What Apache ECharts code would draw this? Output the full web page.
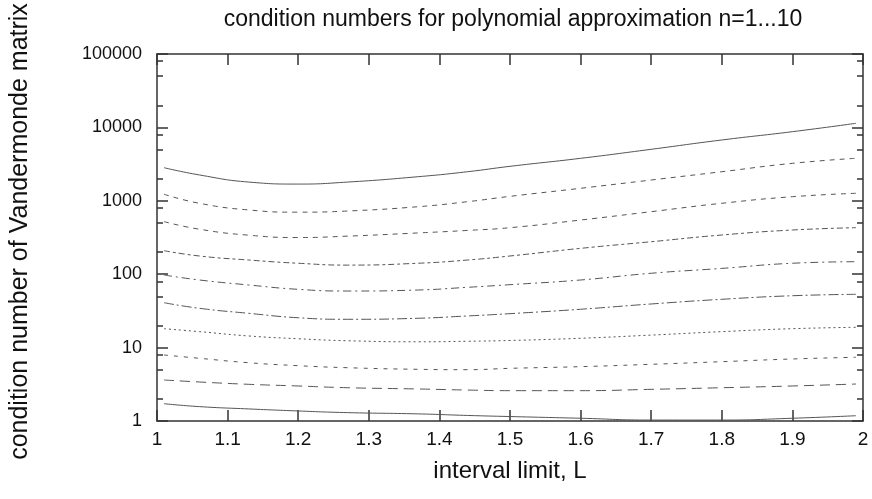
<!DOCTYPE html>
<html>
<head>
<meta charset="utf-8">
<script src="https://cdn.jsdelivr.net/npm/echarts@6/dist/echarts.min.js"></script>
<style>html,body{margin:0;padding:0;background:#fff}#c{width:872px;height:499px}</style>
</head>
<body>
<div id="c"></div>
<script>
const L = [1.01, 1.06, 1.13, 1.2, 1.27, 1.37, 1.44, 1.5, 1.6, 1.7, 1.8, 1.9, 1.99];
const n10 = [2825, 2250, 1800, 1690, 1800, 2130, 2490, 2950, 3790, 5030, 6740, 8740, 11370];
const n9 = [1227, 925, 750, 700, 726, 831, 973, 1150, 1480, 1920, 2490, 3240, 3794];
const n8 = [520, 410, 340, 316, 330, 365, 395, 430, 547, 711, 925, 1137, 1265];
const n7 = [209, 177, 156, 141, 133, 141, 156, 177, 225, 277, 342, 400, 430];
const n6 = [97.5, 83.4, 71.3, 62.2, 59, 60.9, 66.3, 72, 83.4, 103, 120, 141, 148];
const n5 = [40.9, 34.3, 29.3, 25.5, 24.3, 25.1, 27, 29, 33.3, 39.3, 45.5, 50.9, 53.2];
const n4 = [18.1, 16.5, 14.4, 13.2, 12.4, 12.0, 12.2, 12.5, 13.4, 14.8, 16.5, 18.1, 18.9];
const n3 = [7.93, 7.15, 6.22, 5.67, 5.32, 5.06, 5.0, 5.22, 5.5, 5.92, 6.43, 7.0, 7.38];
const n2 = [3.62, 3.40, 3.16, 3.0, 2.84, 2.73, 2.64, 2.59, 2.59, 2.70, 2.84, 3.0, 3.19];
const n1 = [1.72, 1.57, 1.46, 1.37, 1.30, 1.25, 1.19, 1.15, 1.09, 1.03, 1.03, 1.09, 1.18];
const yMajor = [1, 10, 100, 1000, 10000, 100000];
const yMinor = [2, 5, 8, 20, 50, 80, 200, 500, 800, 2000, 5000, 8000, 20000, 50000, 80000];

const curves = [n1, n2, n3, n4, n5, n6, n7, n8, n9, n10];
const dashes = ['solid', [10, 6], [4, 6], [2, 3], [10, 3, 2, 3], [8, 4, 2, 4], [6, 3, 3, 3], [5, 5], [5, 5], 'solid'];

const FONT = 'Liberation Sans';
const AX = '#333';
const chart = echarts.init(document.getElementById('c'), null, {renderer: 'canvas'});
const yBase = {
  type: 'log', logBase: 10, min: 1, max: 100000,
  splitLine: {show: false}, minorTick: {show: false},
};
chart.setOption({
  animation: false,
  backgroundColor: '#fff',
  title: {
    text: 'condition numbers for polynomial approximation n=1...10',
    left: 508, top: 3, textAlign: 'center',
    textStyle: {fontFamily: FONT, fontSize: 23, fontWeight: 'normal', color: '#111'}
  },
  grid: {left: 157, right: 9, top: 54, bottom: 78, show: false},
  xAxis: [{
    type: 'value', min: 1, max: 2, interval: 0.1, position: 'bottom',
    name: 'interval limit, L', nameLocation: 'middle', nameGap: 38,
    nameTextStyle: {fontFamily: FONT, fontSize: 24, color: '#111'},
    axisLine: {show: true, lineStyle: {color: AX, width: 1.5}},
    axisTick: {show: true, inside: true, length: 11, lineStyle: {color: AX, width: 1.5}},
    axisLabel: {fontFamily: FONT, fontSize: 19, color: '#111', margin: 9},
    splitLine: {show: false}
  }, {
    type: 'value', min: 1, max: 2, interval: 0.1, position: 'top',
    axisLine: {show: true, lineStyle: {color: AX, width: 1.5}},
    axisTick: {show: true, inside: true, length: 11, lineStyle: {color: AX, width: 1.5}},
    axisLabel: {show: false}, splitLine: {show: false}
  }],
  yAxis: [Object.assign({}, yBase, {
    position: 'left',
    name: 'condition number of Vandermonde matrix', nameLocation: 'middle', nameGap: 124, nameRotate: 90,
    nameTextStyle: {fontFamily: FONT, fontSize: 25, color: '#111', padding: [0, 0, 0, 12]},
    axisLine: {show: true, lineStyle: {color: AX, width: 1.5}},
    axisTick: {show: true, inside: true, length: 11, lineStyle: {color: AX, width: 1.5}, customValues: yMajor},
    axisLabel: {fontFamily: FONT, fontSize: 18, color: '#111', margin: 15, customValues: yMajor,
      formatter: v => String(Math.round(v))}
  }), Object.assign({}, yBase, {
    position: 'left',
    axisLine: {show: false},
    axisTick: {show: true, inside: true, length: 6, lineStyle: {color: AX, width: 1.5}, customValues: yMinor},
    axisLabel: {show: false}
  }), Object.assign({}, yBase, {
    position: 'right',
    axisLine: {show: true, lineStyle: {color: AX, width: 1.5}},
    axisTick: {show: true, inside: true, length: 11, lineStyle: {color: AX, width: 1.5}, customValues: yMajor},
    axisLabel: {show: false}
  }), Object.assign({}, yBase, {
    position: 'right',
    axisLine: {show: false},
    axisTick: {show: true, inside: true, length: 6, lineStyle: {color: AX, width: 1.5}, customValues: yMinor},
    axisLabel: {show: false}
  })],
  series: curves.map((vals, i) => ({
    type: 'line', name: 'n=' + (i + 1), smooth: true, showSymbol: false,
    xAxisIndex: 0, yAxisIndex: 0,
    lineStyle: {color: '#555', width: 1, type: dashes[i]},
    data: L.map((x, j) => [x, vals[j]])
  }))
});
</script>
</body>
</html>
